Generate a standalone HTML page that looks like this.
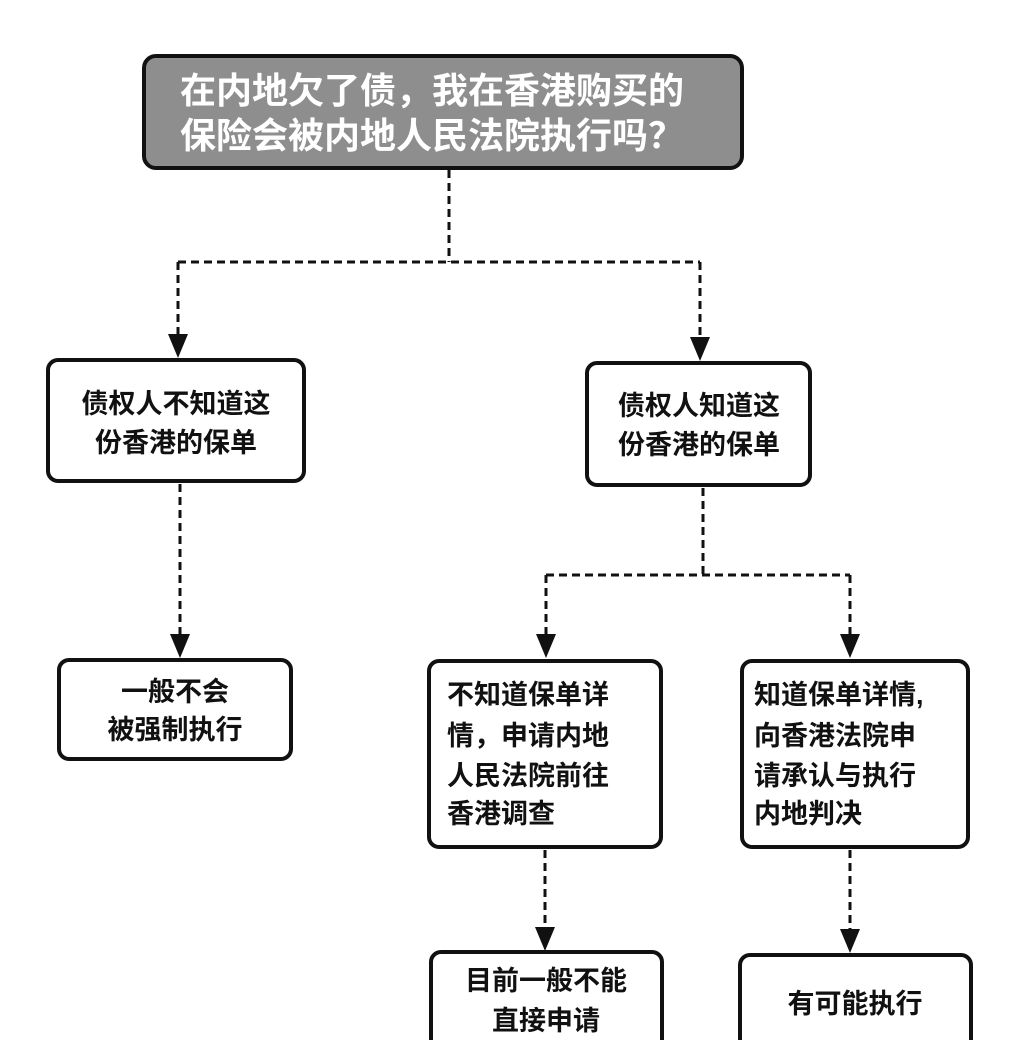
<!DOCTYPE html>
<html><head><meta charset="utf-8"><style>
html,body{margin:0;padding:0;background:#fff;}
svg{display:block}
text{font-family:"Liberation Sans","Noto Sans CJK SC","WenQuanYi Zen Hei",sans-serif;font-weight:bold;}
</style></head><body>
<svg width="1025" height="1040" viewBox="0 0 1025 1040" xmlns="http://www.w3.org/2000/svg">
<defs><marker id="a" markerWidth="10" markerHeight="10" refX="5" refY="9" orient="auto" markerUnits="userSpaceOnUse" viewBox="0 0 10 10"></marker></defs>
<rect x="144" y="56" width="598" height="112" rx="12" fill="#8e8e8e" stroke="#111" stroke-width="4"/>
<text x="180" y="103" font-size="36" fill="#fff">在内地欠了债，我在香港购买的</text>
<text x="180" y="148" font-size="36" fill="#fff">保险会被内地人民法院执行吗？</text>
<g fill="none" stroke="#111" stroke-width="3" stroke-dasharray="8,5">
<path d="M449 170 V262 M178 262 H700 M178 262 V340 M700 262 V343"/>
<path d="M180 484 V640"/>
<path d="M703 488 V575 M546 575 H850 M546 575 V640 M850 575 V640"/>
<path d="M545 850 V933 M850 850 V935"/>
</g>
<g fill="#111">
<polygon points="168,334 188,334 178,358"/>
<polygon points="690,337 710,337 700,361"/>
<polygon points="170,634 190,634 180,658"/>
<polygon points="536,634 556,634 546,658"/>
<polygon points="840,634 860,634 850,658"/>
<polygon points="535,927 555,927 545,951"/>
<polygon points="840,929 860,929 850,953"/>
</g>
<g fill="#fff" stroke="#111" stroke-width="4">
<rect x="48" y="360" width="256" height="121" rx="10"/>
<rect x="587" y="363" width="223" height="122" rx="10"/>
<rect x="59" y="660" width="232" height="99" rx="10"/>
<rect x="429" y="661" width="232" height="186" rx="10"/>
<rect x="742" y="661" width="226" height="186" rx="10"/>
<rect x="431" y="952" width="231" height="110" rx="10"/>
<rect x="740" y="955" width="231" height="110" rx="10"/>
</g>
<g font-size="27" fill="#111">
<text x="176" y="413" text-anchor="middle">债权人不知道这</text>
<text x="176" y="452" text-anchor="middle">份香港的保单</text>
<text x="699" y="415" text-anchor="middle">债权人知道这</text>
<text x="699" y="454" text-anchor="middle">份香港的保单</text>
<text x="175" y="701" text-anchor="middle">一般不会</text>
<text x="175" y="739" text-anchor="middle">被强制执行</text>
<text x="447" y="704">不知道保单详</text>
<text x="447" y="745">情，申请内地</text>
<text x="447" y="785">人民法院前往</text>
<text x="447" y="823">香港调查</text>
<text x="754" y="704">知道保单详情,</text>
<text x="754" y="745">向香港法院申</text>
<text x="754" y="785">请承认与执行</text>
<text x="754" y="823">内地判决</text>
<text x="546" y="990" text-anchor="middle">目前一般不能</text>
<text x="546" y="1030" text-anchor="middle">直接申请</text>
<text x="855" y="1013" text-anchor="middle">有可能执行</text>
</g>
</svg>
</body></html>
